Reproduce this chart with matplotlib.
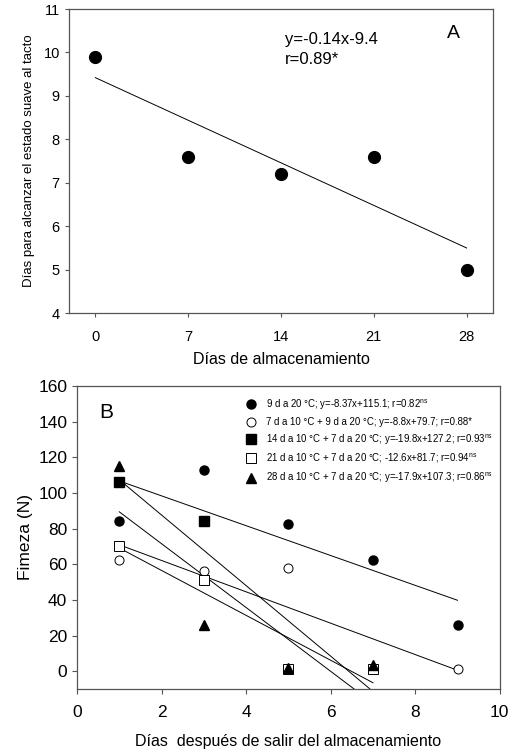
import numpy as np
import matplotlib.pyplot as plt
from matplotlib.lines import Line2D

plt.rcParams['font.family'] = ['Liberation Sans', 'DejaVu Sans']
plt.rcParams['mathtext.fontset'] = 'custom'
plt.rcParams['mathtext.rm'] = 'Liberation Sans'

# Panel A
dias_alm = [0, 7, 14, 21, 28]
dias_suave = [9.9, 7.6, 7.2, 7.6, 5.0]
pendiente_a = -0.14
intercepto_a = 9.42

# Panel B
x_b = [1, 3, 5, 7, 9]
f_9d = [84, 113, 82.5, 62.5, 26]
x_7d = [1, 3, 5, 9]
f_7d = [62.5, 56, 58, 1]
x_14d = [1, 3]
f_14d = [106, 84]
x_21d = [1, 3, 5, 7]
f_21d = [70, 51, 1, 1]
x_28d = [1, 3, 5, 7]
f_28d = [115, 26, 1.5, 3.5]

# pendiente, intercepto, x inicial, x final
rectas = [(-8.37, 115.1, 1, 9),
          (-8.8, 79.7, 1, 9),
          (-19.8, 127.2, 1, 7),
          (-12.6, 81.7, 1, 7),
          (-17.9, 107.3, 1, 7)]

etiquetas = ['9 d a 20 °C; y=-8.37x+115.1; r=0.82$^{\\rm ns}$',
             '7 d a 10 °C + 9 d a 20 °C; y=-8.8x+79.7; r=0.88*',
             '14 d a 10 °C + 7 d a 20 °C; y=-19.8x+127.2; r=0.93$^{\\rm ns}$',
             '21 d a 10 °C + 7 d a 20 °C; -12.6x+81.7; r=0.94$^{\\rm ns}$',
             '28 d a 10 °C + 7 d a 20 °C; y=-17.9x+107.3; r=0.86$^{\\rm ns}$']

fig = plt.figure(figsize=(5.10, 7.51), dpi=100)

# ---- A
ax1 = fig.add_axes([0.135, 0.583, 0.832, 0.405])
xa = np.array([dias_alm[0], dias_alm[-1]])
ax1.plot(xa, pendiente_a * xa + intercepto_a, 'k-', lw=0.7)
ax1.plot(dias_alm, dias_suave, 'ko', ms=8.5)
ax1.set_xlim(-2, 30)
ax1.set_ylim(4, 11)
ax1.set_xticks(dias_alm)
ax1.set_yticks(range(4, 12))
ax1.tick_params(labelsize=10.5, length=3, width=0.8, color='#555555')
ax1.tick_params(axis='x', pad=9)
ax1.set_xlabel('Días de almacenamiento', fontsize=11.5, labelpad=6)
ax1.set_ylabel('Días para alcanzar el estado suave al tacto', fontsize=9.5, labelpad=6)
ax1.text(0.509, 0.901, 'y=-0.14x-9.4', transform=ax1.transAxes, fontsize=12, va='center')
ax1.text(0.509, 0.835, 'r=0.89*', transform=ax1.transAxes, fontsize=12, va='center')
ax1.text(0.906, 0.921, 'A', transform=ax1.transAxes, fontsize=14, ha='center', va='center')
for s in ax1.spines.values():
    s.set_color('#555555')
    s.set_linewidth(0.9)

# ---- B
ax2 = fig.add_axes([0.151, 0.0826, 0.829, 0.4034])
for m, b, x0, x1 in rectas:
    xx = np.array([x0, x1])
    ax2.plot(xx, m * xx + b, 'k-', lw=0.7)
ms = 6.5
ax2.plot(x_b, f_9d, 'o', color='k', ms=ms, ls='none')
ax2.plot(x_7d, f_7d, 'o', mfc='white', mec='k', mew=0.7, ms=ms, ls='none')
ax2.plot(x_14d, f_14d, 's', color='k', ms=ms, ls='none')
ax2.plot(x_21d, f_21d, 's', mfc='white', mec='k', mew=0.7, ms=ms, ls='none')
ax2.plot(x_28d, f_28d, '^', color='k', ms=7, ls='none')
ax2.set_xlim(0, 10)
ax2.set_ylim(-10, 160)
ax2.set_xticks(range(0, 11, 2))
ax2.set_yticks(range(0, 161, 20))
ax2.tick_params(labelsize=12.5, length=3.5, width=0.8, color='#555555')
ax2.tick_params(axis='x', pad=8)
ax2.set_xlabel('Días  después de salir del almacenamiento', fontsize=11.5, labelpad=10)
ax2.set_ylabel('Fimeza (N)', fontsize=12.5, labelpad=4)
ax2.text(0.069, 0.911, 'B', transform=ax2.transAxes, fontsize=15, ha='center', va='center')
for s in ax2.spines.values():
    s.set_color('#555555')
    s.set_linewidth(0.9)

handles = [Line2D([], [], marker='o', color='k', ls='none', ms=6.5),
           Line2D([], [], marker='o', mfc='white', mec='k', mew=0.7, ls='none', ms=6.5),
           Line2D([], [], marker='s', color='k', ls='none', ms=6.5),
           Line2D([], [], marker='s', mfc='white', mec='k', mew=0.7, ls='none', ms=6.5),
           Line2D([], [], marker='^', color='k', ls='none', ms=6.5)]
ax2.legend(handles, etiquetas, loc='upper left', bbox_to_anchor=(0.385, 0.985),
           frameon=False, fontsize=6.9, handlelength=1.0, handletextpad=1.0,
           labelspacing=0.55, borderaxespad=0.3)

fig.savefig('out.png', dpi=100)
